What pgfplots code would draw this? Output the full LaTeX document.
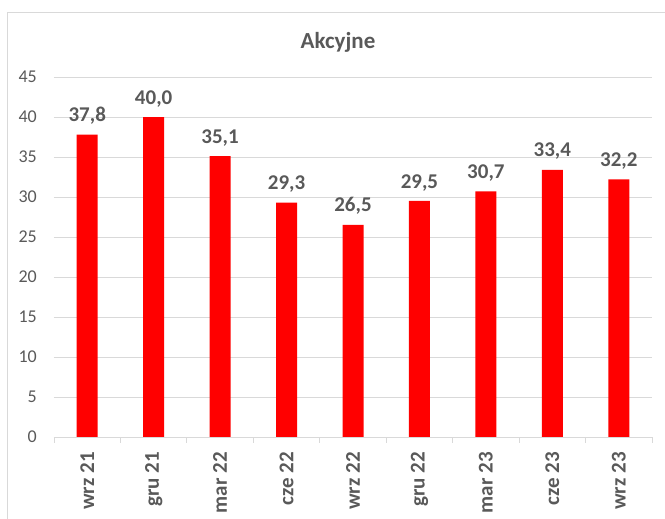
\documentclass[border=0pt]{standalone}
\usepackage{pgfplots}
\pgfplotsset{compat=1.18}
\usepackage{fontspec}
\setmainfont{Carlito}
\definecolor{txtgray}{HTML}{595959}
\definecolor{gridgray}{HTML}{D9D9D9}
\definecolor{barred}{HTML}{FF0000}
\begin{document}
\begin{tikzpicture}
\useasboundingbox (-54pt,-82pt) rectangle (611pt,437pt);
\draw[gridgray, line width=0.8pt] (-47pt,-100pt) -- (-47pt,425pt) -- (630pt,425pt);
\begin{axis}[
  at={(0pt,0pt)}, anchor=south west,
  scale only axis,
  width=598pt, height=360pt,
  xmin=-0.5, xmax=8.5,
  ymin=0, ymax=45,
  ytick={0,5,...,45},
  xtick={0,...,8},
  xticklabels={wrz 21,gru 21,mar 22,cze 22,wrz 22,gru 22,mar 23,cze 23,wrz 23},
  minor xtick={-0.5,0.5,...,8.5},
  major tick length=0pt,
  minor tick length=6pt,
  tick align=outside,
  xtick pos=bottom, ytick pos=left,
  minor tick style={draw=gridgray, line width=0.8pt},
  ymajorgrids, grid style={draw=gridgray, line width=0.8pt},
  axis x line*=bottom, axis y line*=left,
  x axis line style={draw=gridgray, line width=0.8pt, -},
  y axis line style={draw=none},
  /pgf/number format/assume math mode=true,
  yticklabel style={font=\fontsize{18}{18}\selectfont, text=txtgray, anchor=east, inner sep=0pt, xshift=-17pt},
  xticklabel style={font=\bfseries\fontsize{21}{21}\selectfont, text=txtgray, rotate=90, anchor=east, inner sep=0pt, xshift=-15pt},
  nodes near coords,
  nodes near coords style={font=\bfseries\fontsize{21}{21}\selectfont, text=txtgray,
    /pgf/number format/fixed, /pgf/number format/fixed zerofill,
    /pgf/number format/precision=1, /pgf/number format/use comma},
  every node near coord/.append style={anchor=base, inner sep=0pt, yshift=13pt},
]
\addplot[ybar, bar width=21pt, fill=barred, draw=none] coordinates {
  (0,37.8) (1,40.0) (2,35.1) (3,29.3) (4,26.5) (5,29.5) (6,30.7) (7,33.4) (8,32.2)
};
\end{axis}
\node[anchor=base, text=txtgray, font=\bfseries\fontsize{23}{23}\selectfont] at (284pt,388pt) {Akcyjne};
\end{tikzpicture}
\end{document}
